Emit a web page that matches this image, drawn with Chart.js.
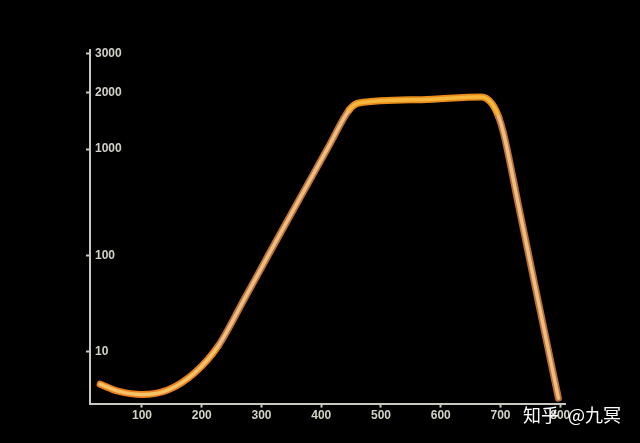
<!DOCTYPE html>
<html>
<head>
<meta charset="utf-8">
<script src="https://cdn.jsdelivr.net/npm/chart.js@4/dist/chart.umd.min.js"></script>
<style>
  html, body { margin: 0; padding: 0; background: #000; }
  #wrap { position: relative; width: 640px; height: 443px; background: #000; }
  #c { display: block; }
  .wm { position: absolute; top: 401px; color: #fff; font-family: "Noto Sans CJK SC", sans-serif; font-size: 18px; white-space: nowrap; }
</style>
</head>
<body>
<div id="wrap">
  <canvas id="c" width="640" height="443"></canvas>
  <div class="wm" style="left:523px">知乎</div>
  <div class="wm" style="left:568px">@九冥</div>
</div>
<script>
// ---- data ----
const xValues = [30, 60, 100, 143, 188, 227, 272, 313, 363, 413, 447, 463, 568, 668, 685, 697, 705, 730, 763, 797];
const yValues = [4.7, 4.0, 3.7, 4.1, 6.1, 11.3, 36, 105, 336, 1039, 1622, 1762, 1837, 1900, 1762, 1486, 1222, 300, 34, 3.4];
const xTicks = [100, 200, 300, 400, 500, 600, 700, 800];
const yTicks = [10, 100, 1000, 2000, 3000];
// warped (hand-drawn) vertical axis: value -> fraction of axis height
const yWarp = [[3, 0], [10, 0.147], [100, 0.418], [1000, 0.720], [2000, 0.879], [3000, 0.989], [3120, 1]];
const xMin = 13, xMax = 808;

function warp(v) {
  const lv = Math.log10(Math.max(v, 1e-9));
  for (let i = 1; i < yWarp.length; i++) {
    const a = yWarp[i - 1], b = yWarp[i];
    if (v <= b[0] || i === yWarp.length - 1) {
      const la = Math.log10(a[0]), lb = Math.log10(b[0]);
      return a[1] + (lv - la) / (lb - la) * (b[1] - a[1]);
    }
  }
}
function unwarp(f) {
  for (let i = 1; i < yWarp.length; i++) {
    const a = yWarp[i - 1], b = yWarp[i];
    if (f <= b[1] || i === yWarp.length - 1) {
      const la = Math.log10(a[0]), lb = Math.log10(b[0]);
      return Math.pow(10, la + (f - a[1]) / (b[1] - a[1]) * (lb - la));
    }
  }
}

class WarpScale extends Chart.Scale {
  determineDataLimits() { this.min = yWarp[0][0]; this.max = yWarp[yWarp.length - 1][0]; }
  buildTicks() { return yTicks.map(v => ({ value: v })); }
  getLabelForValue(v) { return String(v); }
  getPixelForValue(v) { return this.getPixelForDecimal(warp(v)); }
  getValueForPixel(p) { return unwarp(this.getDecimalForPixel(p)); }
  getPixelForTick(i) { return this.getPixelForValue(this.ticks[i].value); }
}
WarpScale.id = 'warp';
WarpScale.defaults = {};
Chart.register(WarpScale);

const points = xValues.map((x, i) => ({ x: x, y: yValues[i] }));

const bgPlugin = {
  id: 'bg',
  beforeDraw(chart) {
    const ctx = chart.ctx;
    ctx.save();
    ctx.fillStyle = '#000';
    ctx.fillRect(0, 0, chart.width, chart.height);
    ctx.restore();
  }
};

const axisColor = '#c9c9bf';
const labelFont = { family: '"Liberation Sans", Arial, sans-serif', size: 12, weight: 'bold' };
const isPlateau = c => c.p0.parsed.y > 1400 && c.p1.parsed.y > 1400;
const isLow = c => c.p1.parsed.y < 12 && c.p0.parsed.y < 12;

new Chart(document.getElementById('c'), {
  type: 'line',
  data: {
    datasets: [
      {
        order: 1,
        data: points,
        borderColor: '#f3c27c',
        borderWidth: 3.5,
        pointRadius: 0,
        cubicInterpolationMode: 'monotone',
        borderCapStyle: 'round',
        borderJoinStyle: 'round',
        fill: false,
        segment: {
          borderColor: c => isPlateau(c) ? '#f6b73e' : (isLow(c) ? '#f6c468' : '#eebd80')
        }
      },
      {
        order: 2,
        data: points,
        borderColor: 'rgba(200, 110, 40, 0.95)',
        borderWidth: 7,
        pointRadius: 0,
        cubicInterpolationMode: 'monotone',
        borderCapStyle: 'round',
        borderJoinStyle: 'round',
        fill: false,
        segment: {
          borderColor: c => isPlateau(c) ? '#e88d1c' : (isLow(c) ? '#ea7f1e' : 'rgba(196, 118, 58, 0.95)')
        }
      }
    ]
  },
  options: {
    responsive: false,
    animation: false,
    devicePixelRatio: 1,
    layout: { padding: { left: 76, top: 50, right: 75, bottom: 19 } },
    plugins: { legend: { display: false }, tooltip: { enabled: false } },
    scales: {
      x: {
        type: 'linear',
        min: xMin,
        max: xMax,
        afterBuildTicks(scale) { scale.ticks = xTicks.map(v => ({ value: v })); },
        ticks: { color: '#d2d2c6', font: labelFont, padding: 1, callback: v => String(v), maxRotation: 0, autoSkip: false },
        grid: { display: true, drawOnChartArea: false, drawTicks: true, tickLength: 4, tickColor: axisColor, tickWidth: 2 },
        border: { display: true, color: axisColor, width: 2 }
      },
      y: {
        type: 'warp',
        position: 'left',
        ticks: { color: '#d2d2c6', font: labelFont, mirror: true, padding: 5, callback: v => String(v), autoSkip: false },
        grid: { display: true, drawOnChartArea: false, drawTicks: true, tickLength: 4, tickColor: axisColor, tickWidth: 2 },
        border: { display: true, color: axisColor, width: 2 }
      }
    }
  },
  plugins: [bgPlugin]
});
</script>
</body>
</html>
